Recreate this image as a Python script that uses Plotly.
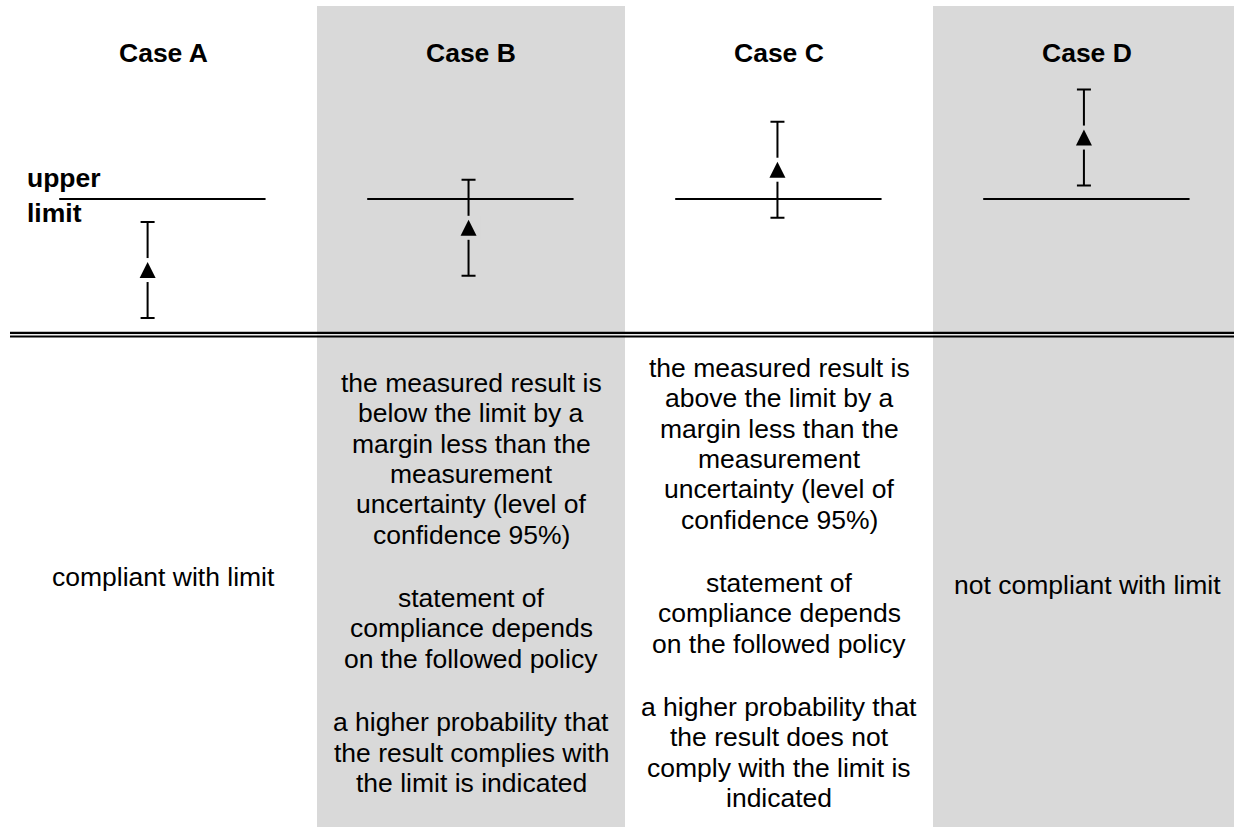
import plotly.graph_objects as go

# ---------------- data ----------------
cases = ["Case A", "Case B", "Case C", "Case D"]
# measured result relative to the upper limit (limit = 0), in units of the uncertainty
measured = [-1.48, -0.60, 0.61, 1.28]
uncertainty = [1.0, 1.0, 1.0, 1.0]
upper_limit = 0.0
limit_label = ["upper", "limit"]

descriptions = [
    [["compliant with limit"]],
    [["the measured result is", "below the limit by a", "margin less than the",
      "measurement", "uncertainty (level of", "confidence 95%)"],
     ["statement of", "compliance depends", "on the followed policy"],
     ["a higher probability that", "the result complies with", "the limit is indicated"]],
    [["the measured result is", "above the limit by a", "margin less than the",
      "measurement", "uncertainty (level of", "confidence 95%)"],
     ["statement of", "compliance depends", "on the followed policy"],
     ["a higher probability that", "the result does not", "comply with the limit is",
      "indicated"]],
    [["not compliant with limit"]],
]

# ---------------- layout constants ----------------
W, H = 1234, 827
GRAY = "#d9d9d9"
col_bg = ["white", GRAY, "white", GRAY]
PX_PER_UNIT = 48.0
LIMIT_PX = 199.0
COL_LEFT_PX = 9.0
COL_W_PX = 308.0
FONT = "Liberation Sans, Arial, sans-serif"
FS = 26.5

x_range = [-0.5 - COL_LEFT_PX / COL_W_PX, -0.5 + (W - COL_LEFT_PX) / COL_W_PX]
y_range = [-(H - LIMIT_PX) / PX_PER_UNIT, LIMIT_PX / PX_PER_UNIT]


def py(px):
    return 1 - px / H


bar_shift = [-0.05, -0.008, -0.005, -0.01]
xs = list(range(len(cases)))
bar_x = [x + s for x, s in zip(xs, bar_shift)]

fig = go.Figure()

# gray column backgrounds
for i, c in enumerate(col_bg):
    if c != "white":
        fig.add_shape(type="rect", xref="x", yref="paper", x0=i - 0.5, x1=i + 0.5 + (0.2 if i == 3 else 0),
                      y0=0, y1=py(6), fillcolor=c, line_width=0, layer="below")

# double separator line
fig.add_shape(type="line", xref="paper", yref="paper", x0=10 / W, x1=1, y0=py(333), y1=py(333),
              line=dict(color="black", width=2.4))
fig.add_shape(type="line", xref="paper", yref="paper", x0=10 / W, x1=1, y0=py(334.9), y1=py(334.9),
              line=dict(color="white", width=1.2))
fig.add_shape(type="line", xref="paper", yref="paper", x0=10 / W, x1=1, y0=py(336.6), y1=py(336.6),
              line=dict(color="black", width=2))

# upper limit lines
lx, ly = [], []
for x in xs:
    lx += [x - 0.337, x + 0.333, None]
    ly += [upper_limit, upper_limit, None]
fig.add_trace(go.Scatter(x=lx, y=ly, mode="lines", line=dict(color="black", width=2.2),
                         hoverinfo="skip", showlegend=False))

# uncertainty bars
fig.add_trace(go.Scatter(
    x=bar_x, y=measured, mode="markers", marker=dict(size=1, opacity=0),
    error_y=dict(type="data", array=uncertainty, symmetric=True, color="black", thickness=2, width=7),
    showlegend=False, hoverinfo="skip"))

# measured result triangles (apex half a triangle above the measured value)
TRI = 16
GAP = 4

# background-coloured mask to open a gap around the triangle
fig.add_trace(go.Scatter(
    x=bar_x, y=measured, mode="markers",
    marker=dict(symbol="square", size=TRI + 2 * GAP, color=col_bg, line=dict(width=0)),
    showlegend=False, hoverinfo="skip"))

fig.add_trace(go.Scatter(
    x=bar_x, y=[m + (TRI / 2) / PX_PER_UNIT for m in measured], mode="markers",
    marker=dict(symbol="arrow-up", size=TRI, color="black", line=dict(width=0)),
    showlegend=False, hoverinfo="skip"))

# titles
for x, name in zip(xs, cases):
    fig.add_annotation(x=x, y=py(53.3), xref="x", yref="paper", text=f"<b>{name}</b>",
                       showarrow=False, xanchor="center", yanchor="middle",
                       font=dict(family=FONT, size=FS, color="black"))

# "upper limit" label
for t, cy in zip(limit_label, [177.5, 213.0]):
    fig.add_annotation(x=25 / W, y=py(cy), xref="paper", yref="paper", text=f"<b>{t}</b>",
                       showarrow=False, xanchor="left", yanchor="middle",
                       font=dict(family=FONT, size=FS, color="black"))

# description texts
PITCH = 30.3
PARA_GAP = 63.5
block_center = [577, 583, 583, 585]
for x, paras, cc in zip(xs, descriptions, block_center):
    offs = []
    y = 0.0
    for pi, para in enumerate(paras):
        if pi > 0:
            y += PARA_GAP - PITCH
        for li, line in enumerate(para):
            offs.append((y, line))
            y += PITCH
    total = offs[-1][0]
    for o, line in offs:
        fig.add_annotation(x=x, y=py(cc - total / 2 + o), xref="x", yref="paper", text=line,
                           showarrow=False, xanchor="center", yanchor="middle",
                           font=dict(family=FONT, size=FS, color="black"))

fig.update_xaxes(range=x_range, visible=False, fixedrange=True)
fig.update_yaxes(range=y_range, visible=False, fixedrange=True)
fig.update_layout(width=W, height=H, autosize=False, margin=dict(l=0, r=0, t=0, b=0, pad=0),
                  paper_bgcolor="white", plot_bgcolor="white", showlegend=False)

fig.write_html("out.html", config={"displayModeBar": False},
               post_script="document.body.style.margin='0';document.body.style.overflow='hidden';")
